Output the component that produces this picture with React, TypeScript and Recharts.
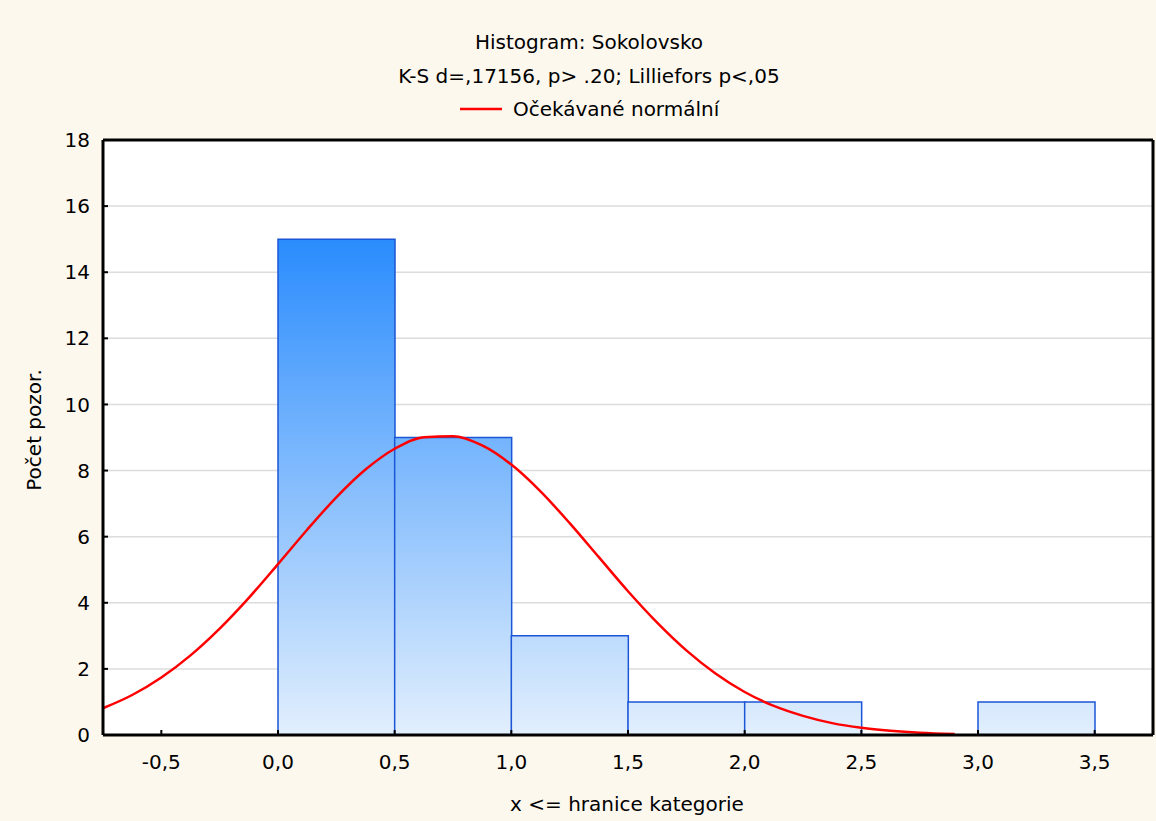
import React from 'react';
import { ComposedChart, Bar, Line, XAxis, YAxis, CartesianGrid } from 'recharts';

// histogram bins: 0.5 wide, centres from 0.25 to 3.25
const binCenters = [0.25, 0.75, 1.25, 1.75, 2.25, 2.75, 3.25];
const counts = [15, 9, 3, 1, 1, 0, 1];

// expected normal curve
const curveX = [
  -0.75, -0.625, -0.5, -0.375, -0.25, -0.125, 0, 0.125, 0.25, 0.375, 0.5, 0.625, 0.75, 0.875, 1.0,
  1.125, 1.25, 1.375, 1.5, 1.625, 1.75, 1.875, 2.0, 2.125, 2.25, 2.375, 2.5, 2.625, 2.75, 2.9,
];
const curveY = [
  0.81, 1.21, 1.74, 2.41, 3.22, 4.15, 5.17, 6.21, 7.19, 8.03, 8.66, 9.01, 9.04, 8.76, 8.18,
  7.37, 6.41, 5.38, 4.35, 3.4, 2.56, 1.86, 1.3, 0.88, 0.58, 0.36, 0.22, 0.13, 0.07, 0.03,
];

const xTicks = [-0.5, 0, 0.5, 1, 1.5, 2, 2.5, 3, 3.5];
const yTicks = [0, 2, 4, 6, 8, 10, 12, 14, 16, 18];
const xDomain = [-0.75, 3.75];
const yDomain = [0, 18];

const barData = binCenters.map((x, i) => ({ x, count: counts[i] }));
const curveData = curveX.map((x, i) => ({ x, y: curveY[i] }));

const FONT = '"DejaVu Sans", Verdana, sans-serif';
const fmtX = (v: number) => v.toFixed(1).replace('.', ',');

export default function App() {
  const tickStyle = { fill: '#000', fontSize: 20, fontFamily: FONT };
  const tickLine = { stroke: '#000', strokeWidth: 2 };
  const axisLine = { stroke: '#000', strokeWidth: 3 };
  return (
    <div style={{ position: 'absolute', left: 0, top: 0, width: 1156, height: 821, background: '#fdf8ee' }}>
      <ComposedChart
        width={1156}
        height={821}
        data={barData}
        margin={{ top: 139, right: 2, bottom: 36, left: 43 }}
        barCategoryGap={0}
        barGap={0}
      >
        <defs>
          <linearGradient id="barFill" gradientUnits="userSpaceOnUse" x1="0" y1="239" x2="0" y2="735">
            <stop offset="0%" stopColor="#2a8cfd" />
            <stop offset="100%" stopColor="#e2effd" />
          </linearGradient>
        </defs>
        <CartesianGrid
          xAxisId="main"
          yAxisId="left"
          vertical={false}
          fill="#fff"
          fillOpacity={1}
          stroke="#dcdcdc"
          strokeWidth={1.5}
        />
        <XAxis xAxisId="bar" dataKey="x" type="number" domain={xDomain} allowDataOverflow hide height={0} />
        <XAxis
          xAxisId="main"
          dataKey="x"
          type="number"
          domain={xDomain}
          ticks={xTicks}
          allowDataOverflow
          tickFormatter={fmtX}
          height={50}
          tickSize={-5}
          tickMargin={25}
          tick={tickStyle}
          tickLine={tickLine}
          axisLine={axisLine}
        />
        <XAxis
          xAxisId="top"
          orientation="top"
          type="number"
          domain={xDomain}
          ticks={xTicks}
          allowDataOverflow
          height={1}
          tickSize={-5}
          tick={false}
          tickLine={tickLine}
          axisLine={axisLine}
        />
        <YAxis
          yAxisId="left"
          type="number"
          domain={yDomain}
          ticks={yTicks}
          width={60}
          tickSize={-5}
          tickMargin={18}
          tick={tickStyle}
          tickLine={tickLine}
          axisLine={axisLine}
        />
        <YAxis
          yAxisId="right"
          orientation="right"
          type="number"
          domain={yDomain}
          ticks={yTicks}
          width={1}
          tickSize={-5}
          tick={false}
          tickLine={tickLine}
          axisLine={axisLine}
        />
        <Bar
          xAxisId="bar"
          yAxisId="left"
          dataKey="count"
          fill="url(#barFill)"
          stroke="#1a56d6"
          strokeWidth={1.5}
          isAnimationActive={false}
        />
        <Line
          xAxisId="main"
          yAxisId="left"
          data={curveData}
          dataKey="y"
          type="monotone"
          stroke="#ff0000"
          strokeWidth={2.5}
          dot={false}
          activeDot={false}
          isAnimationActive={false}
        />
        <text x={589} y={49} textAnchor="middle" fontSize={20} fontFamily={FONT} fill="#000">
          Histogram: Sokolovsko
        </text>
        <text x={589} y={83} textAnchor="middle" fontSize={20} fontFamily={FONT} fill="#000">
          K-S d=,17156, p&gt; .20; Lilliefors p&lt;,05
        </text>
        <line x1={460} y1={109} x2={502} y2={109} stroke="#ff0000" strokeWidth={2.5} />
        <text x={513} y={116} textAnchor="start" fontSize={20} fontFamily={FONT} fill="#000">
          Očekávané normální
        </text>
        <text x={627} y={811} textAnchor="middle" fontSize={20} fontFamily={FONT} fill="#000">
          x &lt;= hranice kategorie
        </text>
        <text
          x={41}
          y={430}
          textAnchor="middle"
          fontSize={20}
          fontFamily={FONT}
          fill="#000"
          transform="rotate(-90, 41, 430)"
        >
          Počet pozor.
        </text>
      </ComposedChart>
    </div>
  );
}
